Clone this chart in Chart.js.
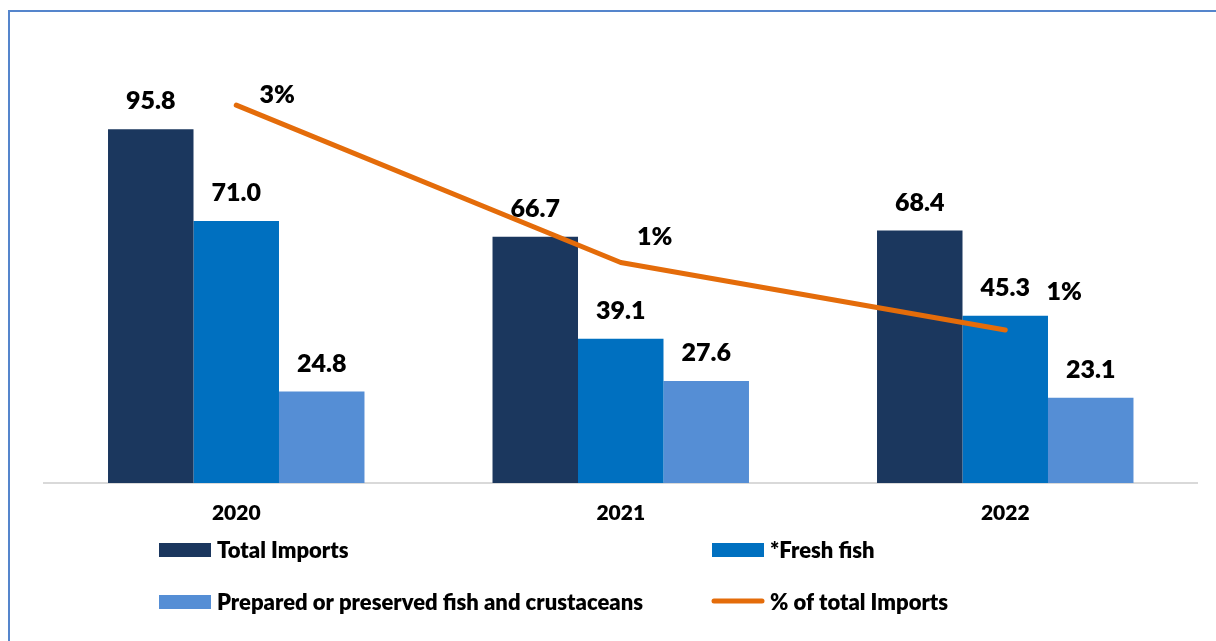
<!DOCTYPE html>
<html>
<head>
<meta charset="utf-8">
<script src="https://cdn.jsdelivr.net/npm/chart.js@4/dist/chart.umd.min.js"></script>
<style>
  html, body { margin: 0; padding: 0; background: #ffffff; }
  body { width: 1216px; height: 641px; position: relative; overflow: hidden; }
  .frame {
    position: absolute; left: 8px; top: 10px; width: 1400px; height: 800px;
    border: 2px solid #5585cc; box-sizing: border-box;
  }
  .wrap { position: absolute; left: 0; top: 0; width: 1216px; height: 641px; }
  canvas { display: block; }
</style>
</head>
<body>
<div class="frame"></div>
<div class="wrap"><canvas id="chart" width="1216" height="641"></canvas></div>
<script>
// Fish imports by year (values in millions) and their share of total imports (%)
const years = ['2020', '2021', '2022'];
const totalImports = [95.8, 66.7, 68.4];
const freshFish = [71.0, 39.1, 45.3];
const preparedFish = [24.8, 27.6, 23.1];
const pctOfTotal = [2.52, 1.47, 1.02];

const seriesNames = ['Total Imports', '*Fresh fish', 'Prepared or preserved fish and crustaceans', '% of total Imports'];

const COLORS = {
  navy: '#1b375e',
  blue: '#0070c0',
  light: '#558ed5',
  orange: '#e46c0a',
  axis: '#d9d9d9',
  text: '#000000'
};
const FONT = 'Lato, "Open Sans", sans-serif';
const WEIGHT = '800';

// Manually nudged positions of the percentage labels relative to each line point
const pctLabelShift = [[41, -10], [34, -26], [59, -38]];

const valueLabels = {
  id: 'valueLabels',
  afterDatasetsDraw(chart) {
    const ctx = chart.ctx;
    ctx.save();
    ctx.fillStyle = COLORS.text;
    ctx.textAlign = 'center';
    ctx.textBaseline = 'middle';
    chart.data.datasets.forEach((ds, di) => {
      const meta = chart.getDatasetMeta(di);
      meta.data.forEach((el, i) => {
        const v = ds.data[i];
        ctx.font = WEIGHT + ' 25px ' + FONT;
        if (ds.type === 'line') {
          const [dx, dy] = pctLabelShift[i];
          ctx.fillText(Math.round(v) + '%', el.x + dx, el.y + dy);
        } else {
          ctx.fillText(v.toFixed(1), el.x, el.y - 28);
        }
      });
    });
    ctx.restore();
  }
};

// Two-column legend drawn under the axis
const gridLegend = {
  id: 'gridLegend',
  afterDraw(chart) {
    const ctx = chart.ctx;
    const ds = chart.data.datasets;
    const cols = [159, 712];
    const rows = [550, 602];
    ctx.save();
    ctx.font = WEIGHT + ' 22px ' + FONT;
    ctx.textBaseline = 'alphabetic';
    ctx.textAlign = 'left';
    ds.forEach((d, k) => {
      const x = cols[k % 2];
      const yMid = rows[Math.floor(k / 2)];
      if (d.type === 'line') {
        ctx.strokeStyle = d.borderColor;
        ctx.lineWidth = 5;
        ctx.lineCap = 'round';
        ctx.beginPath();
        ctx.moveTo(x + 2, yMid - 1);
        ctx.lineTo(x + 50, yMid - 1);
        ctx.stroke();
      } else {
        ctx.fillStyle = d.backgroundColor;
        ctx.fillRect(x, yMid - 7, 52, 14);
      }
      ctx.fillStyle = COLORS.text;
      ctx.fillText(d.label, x + 58, yMid + 8);
    });
    ctx.restore();
  }
};

new Chart(document.getElementById('chart'), {
  type: 'bar',
  data: {
    labels: years,
    datasets: [
      { label: seriesNames[0], data: totalImports, backgroundColor: COLORS.navy, yAxisID: 'y', order: 2 },
      { label: seriesNames[1], data: freshFish, backgroundColor: COLORS.blue, yAxisID: 'y', order: 2 },
      { label: seriesNames[2], data: preparedFish, backgroundColor: COLORS.light, yAxisID: 'y', order: 2 },
      {
        type: 'line', label: seriesNames[3], data: pctOfTotal, yAxisID: 'y1', order: 1,
        borderColor: COLORS.orange, backgroundColor: COLORS.orange, borderWidth: 5,
        pointRadius: 0, tension: 0, borderCapStyle: 'round', borderJoinStyle: 'round', fill: false
      }
    ]
  },
  options: {
    responsive: false,
    animation: false,
    devicePixelRatio: 1,
    layout: { padding: { left: 44, right: 18.5, top: 40, bottom: 96.8 } },
    datasets: { bar: { categoryPercentage: 0.667, barPercentage: 1.0, borderWidth: 0 } },
    plugins: { legend: { display: false }, tooltip: { enabled: false }, title: { display: false } },
    scales: {
      x: {
        grid: { display: false, drawTicks: false },
        border: { display: true, color: COLORS.axis, width: 2 },
        ticks: { color: COLORS.text, font: { family: FONT, size: 21, weight: WEIGHT }, padding: 18 }
      },
      y: { display: false, min: 0, max: 120 },
      y1: { display: false, min: 0, max: 2.954 }
    }
  },
  plugins: [valueLabels, gridLegend]
});
</script>
</body>
</html>
